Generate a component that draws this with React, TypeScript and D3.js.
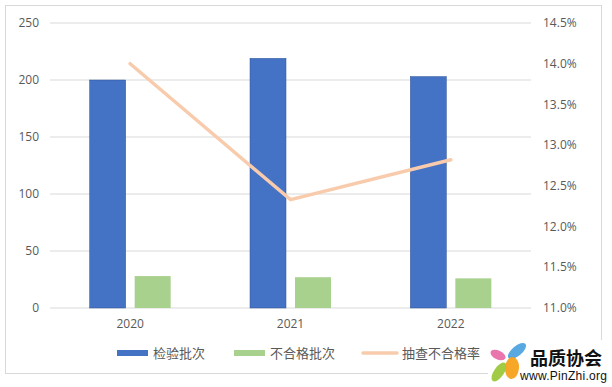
import React, { useEffect, useRef } from 'react';
import * as d3 from 'd3';

const years = ['2020', '2021', '2022'];
const inspected = [200, 219, 203];
const failed = [28, 27, 26];
const failRate = [14.0, 12.33, 12.82];
const leftTicks = [0, 50, 100, 150, 200, 250];
const rightTicks = [11.0, 11.5, 12.0, 12.5, 13.0, 13.5, 14.0, 14.5];
const legendItems = [
  { label: '检验批次', color: '#4472C4', kind: 'bar' },
  { label: '不合格批次', color: '#A9D18E', kind: 'bar' },
  { label: '抽查不合格率', color: '#F8CBAD', kind: 'line' },
];

const W = 612;
const H = 387;

const App: React.FC = () => {
  const svgRef = useRef<SVGSVGElement>(null);

  useEffect(() => {
    if (!svgRef.current) return;
    const svg = d3.select(svgRef.current);
    svg.selectAll('*').remove();

    const font = "'Open Sans', 'Noto Sans CJK SC', sans-serif";
    const margin = { top: 23, right: 81, bottom: 79, left: 50 };
    const cw = W - margin.left - margin.right;
    const ch = H - margin.top - margin.bottom;

    svg.append('rect').attr('width', W).attr('height', H).attr('fill', '#fff');
    svg.append('rect')
      .attr('x', 5.5).attr('y', 5.5).attr('width', 596).attr('height', 368)
      .attr('fill', 'none').attr('stroke', '#d9d9d9');

    const g = svg.append('g').attr('transform', `translate(${margin.left},${margin.top})`);

    const x = d3.scaleBand().domain(years).range([0, cw]);
    const yL = d3.scaleLinear().domain([0, 250]).range([ch, 0]);
    const yR = d3.scaleLinear().domain([11, 14.5]).range([ch, 0]);

    // gridlines
    g.selectAll('line.grid').data(leftTicks).enter().append('line')
      .attr('x1', 0).attr('x2', cw)
      .attr('y1', d => yL(d)).attr('y2', d => yL(d))
      .attr('stroke', '#d9d9d9').attr('stroke-width', 1);

    // left labels
    g.selectAll('text.yl').data(leftTicks).enter().append('text')
      .attr('x', -11).attr('y', d => yL(d)).attr('dy', '0.35em')
      .attr('text-anchor', 'end').attr('font-family', font).attr('font-size', 12)
      .attr('fill', '#595959').text(d => d);

    // right labels
    g.selectAll('text.yr').data(rightTicks).enter().append('text')
      .attr('x', cw + 12).attr('y', d => yR(d)).attr('dy', '0.35em')
      .attr('text-anchor', 'start').attr('font-family', font).attr('font-size', 12)
      .attr('fill', '#595959').text(d => d.toFixed(1) + '%');

    const bw = 36;
    const gap = 9;
    // bars
    years.forEach((yr, i) => {
      const cx = (x(yr) || 0) + x.bandwidth() / 2;
      g.append('rect')
        .attr('x', cx - gap / 2 - bw).attr('y', yL(inspected[i]))
        .attr('width', bw).attr('height', ch - yL(inspected[i]))
        .attr('fill', '#4472C4').attr('stroke', '#2F5597').attr('stroke-width', 0.5);
      g.append('rect')
        .attr('x', cx + gap / 2).attr('y', yL(failed[i]))
        .attr('width', bw).attr('height', ch - yL(failed[i]))
        .attr('fill', '#A9D18E');
    });

    // category labels
    g.selectAll('text.cat').data(years).enter().append('text')
      .attr('x', d => (x(d) || 0) + x.bandwidth() / 2).attr('y', ch + 20)
      .attr('text-anchor', 'middle').attr('font-family', font).attr('font-size', 12)
      .attr('fill', '#595959').text(d => d);

    // line
    const line = d3.line<number>()
      .x((_, i) => (x(years[i]) || 0) + x.bandwidth() / 2)
      .y(d => yR(d));
    g.append('path').datum(failRate)
      .attr('d', line).attr('fill', 'none')
      .attr('stroke', '#F8CBAD').attr('stroke-width', 3.5).attr('stroke-linecap', 'round');

    // legend
    const lg = svg.append('g').attr('transform', 'translate(0,353)');
    const lx = [117, 234, 363];
    legendItems.forEach((it, i) => {
      if (it.kind === 'bar') {
        lg.append('rect').attr('x', lx[i]).attr('y', -3).attr('width', 31).attr('height', 6)
          .attr('fill', it.color);
      } else {
        lg.append('line').attr('x1', lx[i]).attr('x2', lx[i] + 34).attr('y1', 0).attr('y2', 0)
          .attr('stroke', it.color).attr('stroke-width', 3.5).attr('stroke-linecap', 'round');
      }
      lg.append('text').attr('x', lx[i] + (it.kind === 'bar' ? 36 : 39)).attr('y', 0).attr('dy', '0.35em')
        .attr('font-family', font).attr('font-size', 13).attr('fill', '#595959').text(it.label);
    });

    // watermark logo
    const logo = svg.append('g');
    logo.append('rect').attr('x', 488).attr('y', 340).attr('width', 124).attr('height', 47).attr('fill', '#fff');
    const petals = [
      { cx: 517, cy: 351, rx: 11, ry: 5, rot: -40, c: '#4FA3E0' },
      { cx: 498, cy: 355, rx: 8, ry: 4.5, rot: 25, c: '#E86FA8' },
      { cx: 499, cy: 372, rx: 11, ry: 5, rot: -55, c: '#9CC83A' },
      { cx: 512, cy: 368, rx: 7, ry: 11, rot: 5, c: '#F7A21B' },
    ];
    petals.forEach(p => {
      logo.append('ellipse').attr('cx', p.cx).attr('cy', p.cy).attr('rx', p.rx).attr('ry', p.ry)
        .attr('transform', `rotate(${p.rot},${p.cx},${p.cy})`).attr('fill', p.c).attr('opacity', 0.95);
    });
    logo.append('text').attr('x', 530).attr('y', 365).attr('font-family', "'Noto Sans CJK SC', sans-serif")
      .attr('font-size', 18).attr('font-weight', 'bold').attr('fill', '#111').text('品质协会');
    logo.append('text').attr('x', 520).attr('y', 380).attr('font-family', "'Liberation Sans', Arial, sans-serif")
      .attr('font-size', 12).attr('fill', '#111').attr('textLength', 87).text('www.PinZhi.org');
  }, []);

  return (
    <div style={{ position: 'absolute', left: 0, top: 0 }}>
      <svg ref={svgRef} width={W} height={H} style={{ display: 'block' }} />
    </div>
  );
};

export default App;
